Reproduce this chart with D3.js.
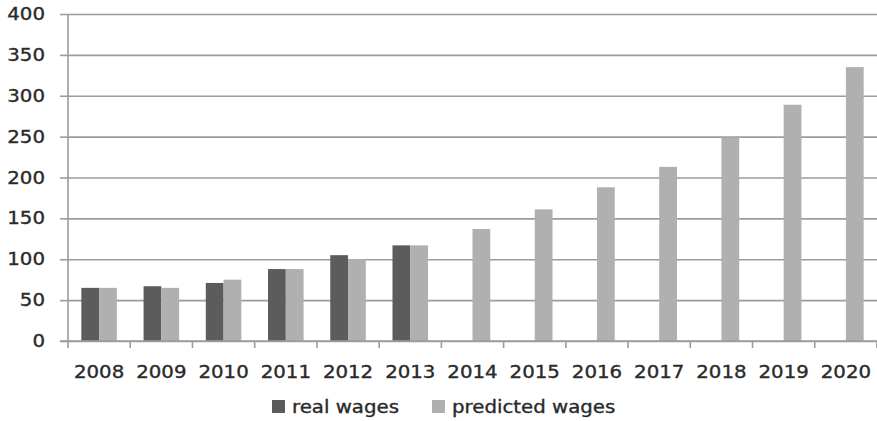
<!DOCTYPE html>
<html>
<head>
<meta charset="utf-8">
<script src="https://cdn.jsdelivr.net/npm/d3@7/dist/d3.min.js"></script>
<style>
  html, body { margin: 0; padding: 0; background: #fff; }
  svg { display: block; }
  text { font-family: "DejaVu Sans", Verdana, sans-serif; fill: #2a2a2a; stroke: #2a2a2a; stroke-width: 0.35px; }
</style>
</head>
<body>
<svg id="chart" width="877" height="421"></svg>
<script>
// Wage index by year: recorded values end in 2013, forecast runs to 2020
const years = ["2008","2009","2010","2011","2012","2013","2014","2015","2016","2017","2018","2019","2020"];
const realWages = [65, 67, 71, 88, 105, 117, null, null, null, null, null, null, null];
const predictedWages = [65, 65, 75, 88, 100, 117, 137, 161, 188, 213, 249, 289, 335];
const yTicks = [0, 50, 100, 150, 200, 250, 300, 350, 400];
const seriesNames = ["real wages", "predicted wages"];
const seriesKeys = ["real", "predicted"];
const colors = { real: "#5c5c5c", predicted: "#b0b0b0" };

const svg = d3.select("#chart");
const plotLeft = 68, plotRight = 877, plotTop = 14, plotBottom = 341;
const textScale = 1.13;

const x = d3.scaleBand().domain(years).range([plotLeft, plotRight]).paddingInner(0).paddingOuter(0);
const x1 = d3.scaleBand().domain(seriesKeys).range([0, x.bandwidth()]).paddingInner(0).paddingOuter(0.75);
const y = d3.scaleLinear().domain([0, 400]).range([plotBottom, plotTop]);

const rows = years.map((yr, i) => ({ year: yr, real: realWages[i], predicted: predictedWages[i] }));

// horizontal gridlines
const grid = svg.append("g")
  .attr("transform", `translate(${plotLeft},0)`)
  .call(d3.axisLeft(y).tickValues(yTicks).tickSize(-(plotRight - plotLeft)).tickFormat(""));
grid.select(".domain").remove();
grid.selectAll(".tick line").attr("stroke", "#9c9c9c").attr("stroke-width", 1.6);

// y axis with labels (short tick marks left of the axis line)
const yAxis = svg.append("g")
  .attr("transform", `translate(${plotLeft},0)`)
  .call(d3.axisLeft(y).tickValues(yTicks).tickSize(8).tickPadding(15));
yAxis.select(".domain").attr("stroke", "#9c9c9c").attr("stroke-width", 1.6).attr("d", `M0,${plotTop}V${plotBottom}`);
yAxis.selectAll(".tick line").attr("stroke", "#9c9c9c").attr("stroke-width", 1.6);
yAxis.selectAll(".tick text")
  .attr("x", -23 / textScale)
  .attr("transform", `scale(${textScale},1)`)
  .style("font-size", "17.5px")
  .attr("fill", "#2a2a2a");

// bars
const groups = svg.append("g").selectAll("g")
  .data(rows).join("g")
  .attr("transform", d => `translate(${x(d.year)},0)`);
groups.selectAll("rect")
  .data(d => seriesKeys.map(k => ({ key: k, value: d[k] })).filter(v => v.value != null))
  .join("rect")
  .attr("x", d => x1(d.key))
  .attr("width", x1.bandwidth())
  .attr("y", d => y(d.value))
  .attr("height", d => y(0) - y(d.value))
  .attr("fill", d => colors[d.key]);

// x axis: baseline, category boundary ticks and year labels
const xAxis = svg.append("g")
  .attr("transform", `translate(0,${plotBottom})`)
  .call(d3.axisBottom(x).tickSize(0).tickPadding(0));
xAxis.select(".domain").attr("stroke", "#9c9c9c").attr("stroke-width", 1.6).attr("d", `M${plotLeft - 8},0H${plotRight}`);
xAxis.selectAll(".tick text")
  .attr("y", 37).attr("dy", 0)
  .attr("transform", `scale(${textScale},1)`)
  .style("font-size", "17.5px")
  .attr("fill", "#2a2a2a");
const bounds = years.map(yr => x(yr)).concat([x.range()[1]]);
xAxis.selectAll(".bound").data(bounds).join("line")
  .attr("class", "bound")
  .attr("x1", d => d).attr("x2", d => d)
  .attr("y1", 0).attr("y2", 7)
  .attr("stroke", "#9c9c9c").attr("stroke-width", 1.6);

// legend
const legendX = [272, 432];
const legend = svg.append("g").selectAll("g")
  .data(seriesKeys).join("g")
  .attr("transform", (d, i) => `translate(${legendX[i]},400)`);
legend.append("rect")
  .attr("width", 13).attr("height", 13)
  .attr("fill", d => colors[d]);
legend.append("text")
  .attr("x", 20 / textScale).attr("y", 13)
  .attr("transform", `scale(${textScale},1)`)
  .style("font-size", "17.5px")
  .text((d, i) => seriesNames[i]);
</script>
</body>
</html>
